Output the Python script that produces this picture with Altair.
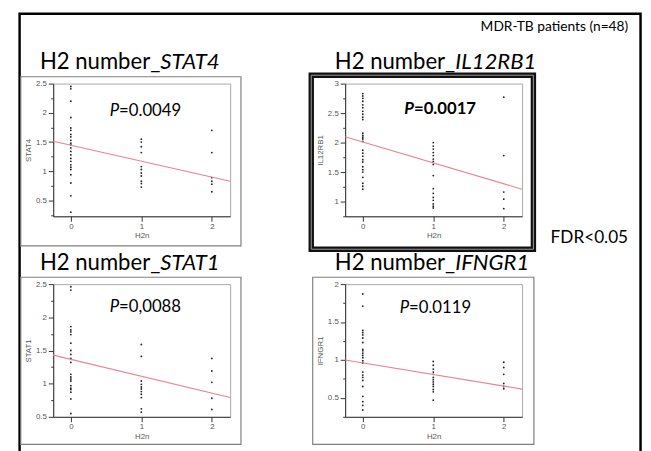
import altair as alt
import pandas as pd

# ---------------- data ----------------
H2N_LEVELS = [0, 1, 2]
X_DOMAIN = [-0.25, 2.26]          # x extent of each plot (H2n)

# STAT4
stat4_h2n0 = [2.45, 2.41, 2.20, 1.92, 1.74, 1.70, 1.63, 1.59, 1.53, 1.48, 1.45, 1.40,
              1.34, 1.28, 1.22, 1.17, 1.11, 1.07, 1.03, 0.94, 0.80, 0.58, 0.30]
stat4_h2n1 = [1.55, 1.50, 1.42, 1.32, 1.08, 1.03, 0.97, 0.92, 0.83, 0.79, 0.73]
stat4_h2n2 = [1.70, 1.32, 0.89, 0.83, 0.78, 0.65]
stat4_fit = [1.515, 0.83]
stat4_ydomain = [0.23, 2.5]
stat4_yticks = [0.25, 0.5, 0.75, 1, 1.25, 1.5, 1.75, 2, 2.25, 2.5]

# IL12RB1
il12_h2n0 = [2.83, 2.79, 2.75, 2.70, 2.64, 2.59, 2.53, 2.48, 2.43, 2.39, 2.16, 2.12, 2.09,
             2.06, 2.02, 1.87, 1.82, 1.77, 1.71, 1.67, 1.59, 1.54, 1.50, 1.41, 1.31, 1.26, 1.21]
il12_h2n1 = [2.00, 1.94, 1.89, 1.83, 1.78, 1.72, 1.68, 1.63, 1.44, 1.22, 1.14, 1.07,
             1.02, 0.96, 0.92, 0.89]
il12_h2n2 = [2.77, 1.78, 1.16, 1.04, 0.88]
il12_fit = [2.10, 1.21]
il12_ydomain = [0.75, 3]
il12_yticks = [0.75, 1, 1.25, 1.5, 1.75, 2, 2.25, 2.5, 2.75, 3]

# STAT1
stat1_h2n0 = [2.46, 2.41, 1.86, 1.81, 1.78, 1.74, 1.61, 1.50, 1.44, 1.38, 1.32, 1.14,
              1.10, 1.07, 1.04, 0.97, 0.93, 0.91, 0.87, 0.77, 0.55]
stat1_h2n1 = [1.59, 1.41, 1.04, 0.99, 0.95, 0.92, 0.88, 0.84, 0.79, 0.62, 0.57]
stat1_h2n2 = [1.38, 1.19, 1.02, 0.78, 0.61]
stat1_fit = [1.43, 0.79]
stat1_ydomain = [0.5, 2.5]
stat1_yticks = [0.5, 0.75, 1, 1.25, 1.5, 1.75, 2, 2.25, 2.5]

# IFNGR1
ifngr1_h2n0 = [1.87, 1.71, 1.39, 1.36, 1.33, 1.29, 1.23, 1.14, 1.12, 1.09, 1.06, 1.03,
               0.99, 0.96, 0.84, 0.80, 0.77, 0.73, 0.65, 0.52, 0.45, 0.40, 0.34]
ifngr1_h2n1 = [0.98, 0.93, 0.88, 0.84, 0.81, 0.77, 0.74, 0.71, 0.68, 0.65, 0.61, 0.58, 0.47]
ifngr1_h2n2 = [0.97, 0.90, 0.81, 0.69, 0.65, 0.62]
ifngr1_fit = [1.00, 0.615]
ifngr1_ydomain = [0.25, 2]
ifngr1_yticks = [0.25, 0.5, 0.75, 1, 1.25, 1.5, 1.75, 2]

x_ticks = [0, 1, 2]
p_values = ["=0.0049", "=0.0017", "=0,0088", "=0.0119"]
title_prefix = "H2 number_"
header_text = "MDR-TB patients (n=48)"
fdr_text = "FDR<0.05"

# ---------------- styling ----------------
FONT = "Lato"
AX_FONT = "Liberation Sans"
W, H = 180, 135
TITLE_SIZE = 22.5
MAJOR = "abs(datum.value*2 - round(datum.value*2)) < 0.01"
ONE = pd.DataFrame({"k": [0]})


def deco_rect(x1, x2, y1, y2, stroke, sw):
    return alt.Chart(ONE).mark_rect(filled=False, stroke=stroke, strokeWidth=sw).encode(
        x=alt.value(x1), x2=alt.value(x2), y=alt.value(y1), y2=alt.value(y2))


def label(text, x, y, size, align, italic=False, bold=False, baseline="alphabetic", font=FONT):
    kw = dict(text=text, font=font, fontSize=size, align=align, baseline=baseline, color="black")
    if italic:
        kw["fontStyle"] = "italic"
    if bold:
        kw["fontWeight"] = "bold"
    return alt.Chart(ONE).mark_text(**kw).encode(x=alt.value(x), y=alt.value(y))


def panel(gene, groups, fit, ydom, yticks, p_text, p_bold, title_j, title_y, p_j, p_y):
    xs = [h for h, vals in zip(H2N_LEVELS, groups) for _ in vals]
    ys = [v for vals in groups for v in vals]
    pts = pd.DataFrame({"H2n": xs, "val": ys})
    line = pd.DataFrame({"H2n": X_DOMAIN, "val": fit})

    xscale = alt.Scale(domain=X_DOMAIN, nice=False, zero=False)
    yscale = alt.Scale(domain=ydom, nice=False, zero=False)
    xaxis = alt.Axis(values=x_ticks, tickSize=5, title="H2n", titlePadding=2, labelPadding=1,
                     labelFlush=False)
    yaxis = alt.Axis(values=yticks, title=gene, labelOverlap=False,
                     tickSize={"condition": {"test": MAJOR, "value": 5}, "value": 2.5},
                     labelExpr=MAJOR + " ? '' + datum.value : ''", labelPadding=2, titlePadding=3)

    enc = dict(x=alt.X("H2n:Q", scale=xscale, axis=xaxis),
               y=alt.Y("val:Q", scale=yscale, axis=yaxis))
    points = alt.Chart(pts).mark_circle(size=3.5, color="#222", opacity=1).encode(**enc)
    fitl = alt.Chart(line).mark_line(color="#e58593", strokeWidth=1.1).encode(**enc)

    layers = [points, fitl,
              label(title_prefix, title_j, title_y, TITLE_SIZE, "right"),
              label(gene, title_j, title_y, TITLE_SIZE, "left", italic=True),
              label("P", p_j, p_y, 17, "right", italic=True, bold=p_bold, baseline="middle"),
              label(p_text, p_j, p_y, 17, "left", bold=p_bold, baseline="middle")]
    return layers


l1 = panel("STAT4", [stat4_h2n0, stat4_h2n1, stat4_h2n2], stat4_fit, stat4_ydomain,
           stat4_yticks, p_values[0], False, 109, -15, 67, 28)
l2 = panel("IL12RB1", [il12_h2n0, il12_h2n1, il12_h2n2], il12_fit, il12_ydomain,
           il12_yticks, p_values[1], True, 112, -15, 70, 26)
l3 = panel("STAT1", [stat1_h2n0, stat1_h2n1, stat1_h2n2], stat1_fit, stat1_ydomain,
           stat1_yticks, p_values[2], False, 109, -14, 67, 23)
l4 = panel("IFNGR1", [ifngr1_h2n0, ifngr1_h2n1, ifngr1_h2n2], ifngr1_fit, ifngr1_ydomain,
           ifngr1_yticks, p_values[3], False, 112, -14, 65, 24)

p1 = alt.layer(deco_rect(-34.2, 597.5, -71, 376, "black", 2.5),
               deco_rect(-33, 191, -7, 165, "#808080", 1.2),
               label(header_text, 585, -57, 14, "right", baseline="middle"),
               *l1).properties(width=W, height=H)
p2 = alt.layer(deco_rect(-34.5, 191.5, -8.5, 168.5, "#111", 5.5),
               deco_rect(-34.5, 191.5, -8.5, 168.5, "#9a9a9a", 1),
               label(fdr_text, 209, 157, 17.5, "left", baseline="middle"),
               *l2).properties(width=W, height=H)
p3 = alt.layer(deco_rect(-33, 191, -7, 163, "#808080", 1.2), *l3).properties(width=W, height=H)
p4 = alt.layer(deco_rect(-33, 192, -7, 163, "#808080", 1.2), *l4).properties(width=W, height=H)

chart = alt.concat(p1, p2, p3, p4, columns=2, spacing={"row": 69, "column": 117},
                   bounds="flush").properties(
    padding={"left": 10, "top": 0, "right": 0, "bottom": 0}
).configure_view(stroke="#a8a8a8", strokeWidth=1).configure_axis(
    grid=False, domainColor="#333", tickColor="#333", labelFont=AX_FONT, labelFontSize=8,
    labelColor="#555", titleFont=AX_FONT, titleFontSize=8, titleFontWeight="normal",
    titleColor="#555"
)

chart.save("out.html", embed_options={"renderer": "svg", "actions": False})
